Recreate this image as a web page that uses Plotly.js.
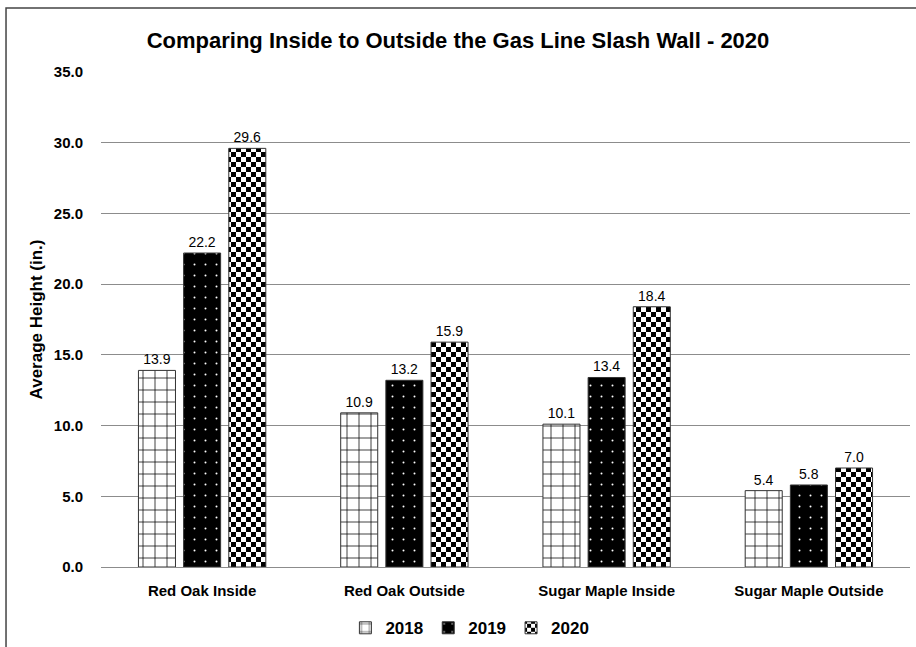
<!DOCTYPE html>
<html>
<head>
<meta charset="utf-8">
<script src="https://cdn.plot.ly/plotly-3.0.1.min.js"></script>
<style>html,body{margin:0;padding:0;background:#fff;}#chart{width:916px;height:647px;}</style>
</head>
<body>
<div id="chart"></div>
<script>
const categories = ["Red Oak Inside", "Red Oak Outside", "Sugar Maple Inside", "Sugar Maple Outside"];
const seriesNames = ["2018", "2019", "2020"];
const values2018 = [13.9, 10.9, 10.1, 5.4];
const values2019 = [22.2, 13.2, 13.4, 5.8];
const values2020 = [29.6, 15.9, 18.4, 7.0];
const yTicks = [0, 5, 10, 15, 20, 25, 30, 35];

const FONT = "Liberation Sans, Arial, sans-serif";
const CHECK_MARK = "#000001";

function barTrace(name, vals, pattern) {
  return {
    type: "bar",
    name: "<b>" + name + "</b>",
    x: categories,
    y: vals,
    text: vals.map(v => v.toFixed(1)),
    textposition: "outside",
    cliponaxis: false,
    textfont: {family: FONT, size: 14, color: "#000"},
    marker: {color: "#fff", line: {color: "#333", width: 1}, pattern: pattern},
    hoverinfo: "skip"
  };
}

const traces = [
  barTrace(seriesNames[0], values2018, {shape: "+", bgcolor: "#fff", fgcolor: "#000", size: 12, solidity: 0.12, fillmode: "replace"}),
  barTrace(seriesNames[1], values2019, {shape: ".", bgcolor: "#000", fgcolor: "#fff", size: 11, solidity: 0.025, fillmode: "replace"}),
  barTrace(seriesNames[2], values2020, {shape: ".", bgcolor: "#fff", fgcolor: CHECK_MARK, size: 10, solidity: 0.5, fillmode: "replace"})
];

const layout = {
  width: 916, height: 647,
  paper_bgcolor: "#fff", plot_bgcolor: "#fff",
  margin: {l: 101, r: 6, t: 72, b: 80, autoexpand: false},
  font: {family: FONT, color: "#000"},
  title: {text: "<b>Comparing Inside to Outside the Gas Line Slash Wall - 2020</b>", font: {family: FONT, size: 22, color: "#000"}, x: 0.5, xanchor: "center", y: 0.938, yanchor: "middle"},
  barmode: "group",
  bargap: 0.33,
  bargroupgap: 0.18,
  showlegend: true,
  legend: {orientation: "h", x: 0.456, xanchor: "center", yref: "container", y: 0.029, yanchor: "middle", font: {family: FONT, size: 17, color: "#000"}, itemclick: false, traceorder: "normal", itemwidth: 30},
  xaxis: {
    type: "category", automargin: false,
    showgrid: false, zeroline: false, showline: false,
    ticks: "", tickfont: {family: FONT, size: 15, color: "#000", weight: "bold"},
    ticklabelstandoff: 13
  },
  yaxis: {
    range: [0, 35], automargin: false,
    tickvals: yTicks,
    ticktext: yTicks.map(v => "<b>" + v.toFixed(1) + "</b>"),
    showgrid: true, gridcolor: "#8c8c8c", gridwidth: 1,
    zeroline: true, zerolinecolor: "#8c8c8c", zerolinewidth: 1,
    showline: false, ticks: "",
    tickfont: {family: FONT, size: 15, color: "#000"},
    ticklabelstandoff: 17,
    title: {text: "<b>Average Height (in.)</b>", font: {family: FONT, size: 17, color: "#000"}, standoff: 6}
  },
  shapes: [{
    type: "rect", xref: "paper", yref: "paper",
    x0: -0.1174, x1: 1.05, y0: -0.3, y1: 1.1293,
    line: {color: "#444", width: 1.5}, fillcolor: "rgba(0,0,0,0)", layer: "below"
  }]
};

function checkerize() {
  const pats = document.querySelectorAll("#chart pattern");
  pats.forEach(p => {
    const circ = p.querySelector("circle");
    if (!circ) return;
    const fill = (circ.getAttribute("fill") || circ.style.fill || "").toLowerCase();
    if (fill !== CHECK_MARK && fill !== "rgb(0, 0, 1)") return;
    const a = 5;
    while (p.firstChild) p.removeChild(p.firstChild);
    p.setAttribute("width", 2 * a);
    p.setAttribute("height", 2 * a);
    const ns = "http://www.w3.org/2000/svg";
    const mk = (x, y, w, h, c) => {
      const r = document.createElementNS(ns, "rect");
      r.setAttribute("x", x); r.setAttribute("y", y);
      r.setAttribute("width", w); r.setAttribute("height", h);
      r.setAttribute("fill", c);
      p.appendChild(r);
    };
    mk(0, 0, 2 * a, 2 * a, "#fff");
    mk(0, 0, a, a, "#000");
    mk(a, a, a, a, "#000");
  });
}

Plotly.newPlot("chart", traces, layout, {displayModeBar: false, staticPlot: true}).then(checkerize);
</script>
</body>
</html>
